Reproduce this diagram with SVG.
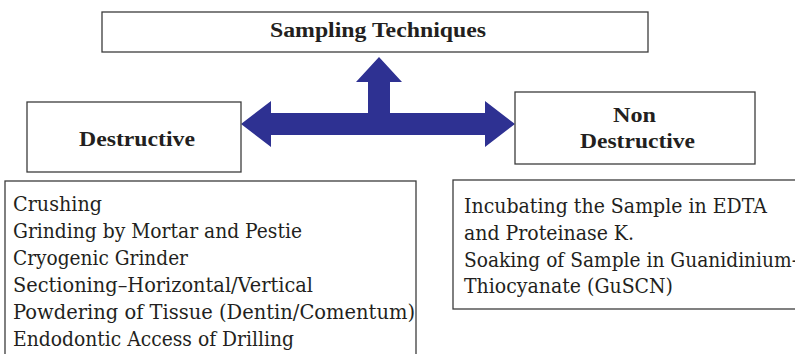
<svg xmlns="http://www.w3.org/2000/svg" width="795" height="354" viewBox="0 0 795 354">
  <style>
    .box { fill: #ffffff; stroke: #3c3c3c; stroke-width: 1.3; }
    .head { font-family: "Liberation Serif", "Times New Roman", serif; font-weight: bold; font-size: 20px; fill: #231f20; }
    .item { font-family: "DejaVu Serif", "Liberation Serif", serif; font-size: 19.5px; fill: #231f20; }
    .arrow { fill: #2e3192; }
  </style>
  <rect width="795" height="354" fill="#ffffff"/>

  <!-- connectors: T-shaped three-way arrow -->
  <g id="connectors">
    <polygon class="arrow" points="241,124 271,101 271,113 368,113 368,82 356,82 379,57 402,82 390,82 390,113 485,113 485,101 515,124 485,147 485,135 271,135 271,147"/>
  </g>

  <g id="sampling-techniques">
    <rect class="box" x="102" y="12" width="546" height="40"/>
    <text class="head" x="270" y="37" textLength="216" lengthAdjust="spacingAndGlyphs">Sampling Techniques</text>
  </g>

  <g id="destructive">
    <rect class="box" x="27" y="102" width="214" height="70"/>
    <text class="head" x="79" y="146" textLength="116" lengthAdjust="spacingAndGlyphs">Destructive</text>
  </g>

  <g id="non-destructive">
    <rect class="box" x="515" y="92" width="240" height="72"/>
    <text class="head" x="613" y="122" textLength="43" lengthAdjust="spacingAndGlyphs">Non</text>
    <text class="head" x="580" y="148" textLength="115" lengthAdjust="spacingAndGlyphs">Destructive</text>
  </g>

  <g id="destructive-methods">
    <rect class="box" x="5" y="181" width="411" height="190"/>
    <text class="item" x="13" y="211" textLength="89" lengthAdjust="spacingAndGlyphs">Crushing</text>
    <text class="item" x="13" y="238" textLength="289" lengthAdjust="spacingAndGlyphs">Grinding by Mortar and Pestie</text>
    <text class="item" x="13" y="265" textLength="175" lengthAdjust="spacingAndGlyphs">Cryogenic Grinder</text>
    <text class="item" x="13" y="292" textLength="300" lengthAdjust="spacingAndGlyphs">Sectioning–Horizontal/Vertical</text>
    <text class="item" x="13" y="319" textLength="402" lengthAdjust="spacingAndGlyphs">Powdering of Tissue (Dentin/Comentum)</text>
    <text class="item" x="13" y="346" textLength="281" lengthAdjust="spacingAndGlyphs">Endodontic Access of Drilling</text>
  </g>

  <g id="non-destructive-methods">
    <rect class="box" x="453" y="180" width="360" height="129"/>
    <text class="item" x="464" y="213" textLength="303" lengthAdjust="spacingAndGlyphs">Incubating the Sample in EDTA</text>
    <text class="item" x="464" y="240" textLength="170" lengthAdjust="spacingAndGlyphs">and Proteinase K.</text>
    <text class="item" x="464" y="267" textLength="334" lengthAdjust="spacingAndGlyphs">Soaking of Sample in Guanidinium-</text>
    <text class="item" x="464" y="293" textLength="209" lengthAdjust="spacingAndGlyphs">Thiocyanate (GuSCN)</text>
  </g>
</svg>
